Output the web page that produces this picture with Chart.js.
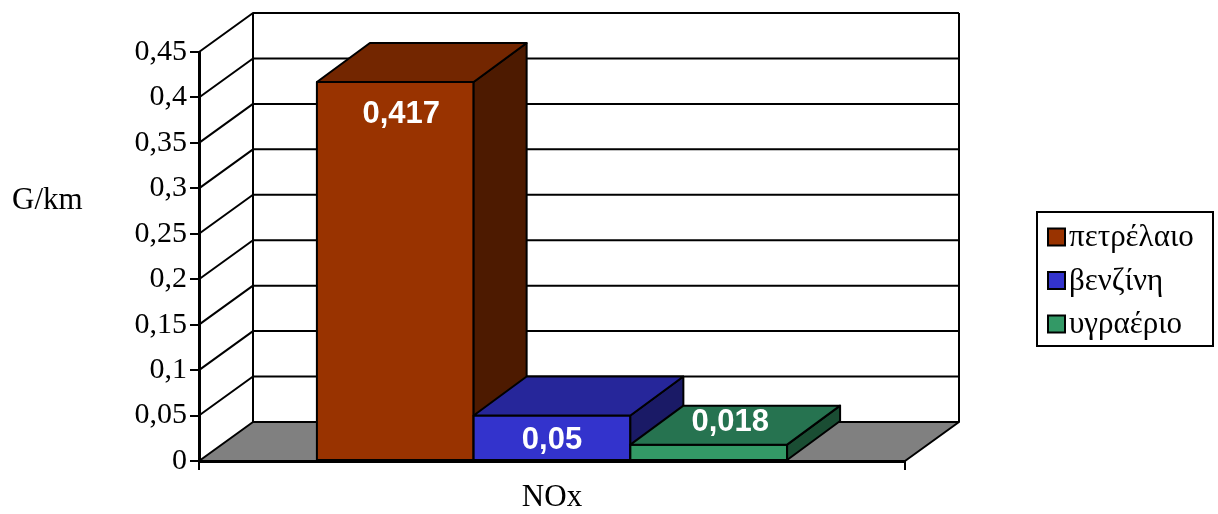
<!DOCTYPE html>
<html>
<head>
<meta charset="utf-8">
<script src="https://cdn.jsdelivr.net/npm/chart.js@4/dist/chart.umd.min.js"></script>
<style>
  html, body { margin: 0; padding: 0; background: #fff; }
  #wrap { width: 1218px; height: 514px; }
</style>
</head>
<body>
<div id="wrap"><canvas id="myChart" width="1218" height="514"></canvas></div>
<script>
// emissions per fuel type, g/km
var categories = ["NOx"];
var fuelNames = ["πετρέλαιο", "βενζίνη", "υγραέριο"];
var noxValues = [0.417, 0.05, 0.018];
var yTicks = [0, 0.05, 0.1, 0.15, 0.2, 0.25, 0.3, 0.35, 0.4, 0.45];

// face colours: front, top, side
var frontColors = ["#993300", "#3333CC", "#339966"];
var topColors = ["#732600", "#26269A", "#267350"];
var sideColors = ["#4D1A00", "#1A1A66", "#1A4D33"];

var DEPTH_X = 54, DEPTH_Y = -39; // walls
var BAR_DX = 53; // bar depth

function fmt(v) {
  return String(+v.toFixed(3)).replace(".", ",");
}

function poly(ctx, pts, fill) {
  ctx.beginPath();
  ctx.moveTo(pts[0][0], pts[0][1]);
  for (var i = 1; i < pts.length; i++) ctx.lineTo(pts[i][0], pts[i][1]);
  ctx.closePath();
  if (fill) {
    ctx.fillStyle = fill;
    ctx.fill();
  }
  ctx.stroke();
}

var walls3d = {
  id: "walls3d",
  beforeDatasetsDraw: function (chart) {
    var ctx = chart.ctx, a = chart.chartArea, y = chart.scales.y;
    ctx.save();
    ctx.strokeStyle = "#000";
    ctx.lineWidth = 2;
    ctx.lineJoin = "round";
    // grid on left and back walls
    yTicks.forEach(function (t) {
      if (t === 0) return;
      var py = y.getPixelForValue(t);
      ctx.beginPath();
      ctx.moveTo(a.left, py);
      ctx.lineTo(a.left + DEPTH_X, py + DEPTH_Y);
      ctx.lineTo(a.right + DEPTH_X, py + DEPTH_Y);
      ctx.stroke();
    });
    var top = y.getPixelForValue(yTicks[yTicks.length - 1]);
    ctx.beginPath();
    ctx.moveTo(a.left + DEPTH_X, top + DEPTH_Y);
    ctx.lineTo(a.left + DEPTH_X, a.bottom + DEPTH_Y);
    ctx.moveTo(a.right + DEPTH_X, top + DEPTH_Y);
    ctx.lineTo(a.right + DEPTH_X, a.bottom + DEPTH_Y);
    ctx.stroke();
    // floor
    poly(ctx, [
      [a.left, a.bottom],
      [a.right, a.bottom],
      [a.right + DEPTH_X, a.bottom + DEPTH_Y],
      [a.left + DEPTH_X, a.bottom + DEPTH_Y]
    ], "#808080");
    ctx.restore();
  },
  afterDatasetsDraw: function (chart) {
    var ctx = chart.ctx;
    ctx.save();
    ctx.strokeStyle = "#000";
    ctx.lineWidth = 2;
    ctx.lineJoin = "round";
    chart.data.datasets.forEach(function (ds, i) {
      var bar = chart.getDatasetMeta(i).data[0];
      var l = bar.x - bar.width / 2, r = bar.x + bar.width / 2;
      var t = bar.y, b = bar.base;
      poly(ctx, [[l, t], [r, t], [r, b], [l, b]], frontColors[i]);
      poly(ctx, [[r, t], [r + BAR_DX, t + DEPTH_Y], [r + BAR_DX, b + DEPTH_Y], [r, b]], sideColors[i]);
      poly(ctx, [[l, t], [r, t], [r + BAR_DX, t + DEPTH_Y], [l + BAR_DX, t + DEPTH_Y]], topColors[i]);
    });
    // value labels
    ctx.fillStyle = "#fff";
    ctx.font = "bold 31px 'Liberation Sans', Arial, sans-serif";
    ctx.textAlign = "center";
    ctx.textBaseline = "middle";
    chart.data.datasets.forEach(function (ds, i) {
      var bar = chart.getDatasetMeta(i).data[0];
      var h = bar.base - bar.y;
      var lx, ly;
      if (h > 35) {
        lx = bar.x + (h > 100 ? 6 : 0);
        ly = bar.y + Math.min(32, h / 2 + 3);
      } else {
        lx = bar.x + BAR_DX / 2 - 5;
        ly = bar.y + DEPTH_Y / 2 - 3;
      }
      ctx.fillText(fmt(ds.data[0]), lx, ly);
    });
    ctx.restore();
  },
  afterDraw: function (chart) {
    var ctx = chart.ctx;
    ctx.save();
    // axis title
    ctx.fillStyle = "#000";
    ctx.font = "31px 'Liberation Serif', 'Times New Roman', serif";
    ctx.textAlign = "left";
    ctx.textBaseline = "middle";
    ctx.fillText("G/km", 12, 201);
    // legend
    var lx = 1037, ly = 212, lw = 176, lh = 134;
    ctx.strokeStyle = "#000";
    ctx.lineWidth = 2;
    ctx.strokeRect(lx, ly, lw, lh);
    ctx.font = "31px 'Liberation Serif', 'Times New Roman', serif";
    fuelNames.forEach(function (name, i) {
      var cy = 237 + i * 43.5;
      ctx.fillStyle = frontColors[i];
      ctx.fillRect(1048, cy - 8.5, 17, 17);
      ctx.strokeRect(1048, cy - 8.5, 17, 17);
      ctx.fillStyle = "#000";
      ctx.fillText(name, 1069, cy + 1);
    });
    ctx.restore();
  }
};

var ctx = document.getElementById("myChart").getContext("2d");
// eslint-disable-next-line no-undef
var myChart = new Chart(ctx, {
  type: "bar",
  data: {
    labels: categories,
    datasets: fuelNames.map(function (name, i) {
      return {
        label: name,
        data: [noxValues[i]],
        backgroundColor: frontColors[i],
        borderWidth: 0
      };
    })
  },
  options: {
    responsive: false,
    animation: false,
    layout: { padding: { left: 0, right: 313, top: 52, bottom: 0 } },
    datasets: { bar: { categoryPercentage: 0.666, barPercentage: 1 } },
    plugins: { legend: { display: false }, tooltip: { enabled: false } },
    scales: {
      x: {
        offset: true,
        grid: { offset: true, drawOnChartArea: false, tickLength: 9, color: "#000", lineWidth: 2 },
        border: { color: "#000", width: 3 },
        ticks: { color: "#000", padding: 9, font: { family: "'Liberation Serif', 'Times New Roman', serif", size: 31 } },
        afterFit: function (s) { s.height = 53; }
      },
      y: {
        min: 0,
        max: 0.45,
        afterBuildTicks: function (s) { s.ticks = yTicks.map(function (v) { return { value: v }; }); },
        grid: { drawOnChartArea: false, tickLength: 9, color: "#000", lineWidth: 2 },
        border: { color: "#000", width: 3 },
        ticks: {
          color: "#000",
          padding: 3,
          font: { family: "'Liberation Serif', 'Times New Roman', serif", size: 30 },
          callback: function (v) { return fmt(v); }
        },
        afterFit: function (s) { s.width = 199; }
      }
    }
  },
  plugins: [walls3d]
});
</script>
</body>
</html>
